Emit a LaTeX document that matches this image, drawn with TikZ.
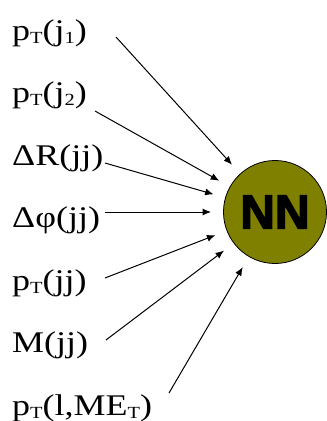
\documentclass[tikz,border=0pt]{standalone}
\usepackage{fontspec}
\setmainfont{Liberation Serif}[FakeStretch=1.2]
\newfontfamily\nnfont{Liberation Sans Bold}[FakeBold=3]
\usetikzlibrary{arrows.meta}
\definecolor{nnolive}{HTML}{808000}
\newcommand{\lo}[1]{\raisebox{-3pt}{\fontsize{17}{17}\selectfont #1}}
\tikzset{var/.style={anchor=base west,inner sep=0pt,font=\fontsize{30}{32}\selectfont},unit/.style={circle,draw=black,line width=0.8pt,fill=nnolive,minimum size=103pt,inner sep=0pt,font=\nnfont\fontsize{48}{48}\selectfont},feed/.style={-{Latex[length=8.5pt,width=7pt]},line width=1pt,shorten >=12pt}}
\begin{document}
\begin{tikzpicture}[x=1pt,y=-1pt]
\useasboundingbox (0,0) rectangle (327,421);
\node[unit] (nn) at (275,212) {NN};
\node[var] (pt1) at (12,40) {p\lo{T}(j\lo{1})};
\node[var] (pt2) at (12,102.5) {p\lo{T}(j\lo{2})};
\node[var] (dr) at (12,165) {ΔR(jj)};
\node[var] (dphi) at (12,227.5) {Δφ(jj)};
\node[var] (ptjj) at (12,290) {p\lo{T}(jj)};
\node[var] (mjj) at (12,352.5) {M(jj)};
\node[var] (ptl) at (12,415) {p\lo{T}(l,ME\lo{T})};
\coordinate (pt1e) at (116,37);\coordinate (pt2e) at (95,111);\coordinate (dre) at (105,163);\coordinate (dphie) at (105,212);
\coordinate (ptjje) at (105,278);\coordinate (mjje) at (106,340);\coordinate (ptle) at (169,393);
\draw[feed] (pt1e)--(nn);\draw[feed] (pt2e)--(nn);\draw[feed] (dre)--(nn);\draw[feed] (dphie)--(nn);
\draw[feed] (ptjje)--(nn);\draw[feed] (mjje)--(nn);\draw[feed] (ptle)--(nn);
\end{tikzpicture}
\end{document}
